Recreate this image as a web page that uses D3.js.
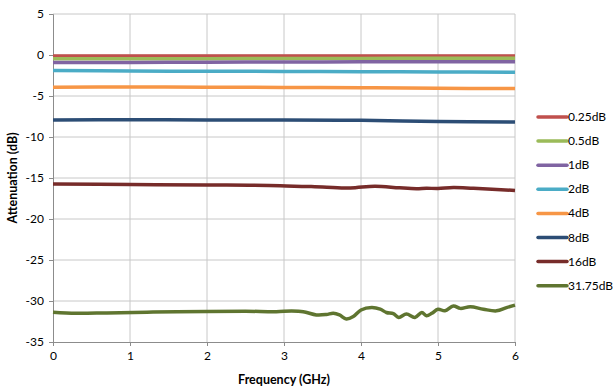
<!DOCTYPE html>
<html>
<head>
  <meta charset="utf-8">
  <title>Attenuation vs Frequency</title>
  <style type="text/css">
    body{
      margin:0;
      background:#fff;
    }
    text{
      font-family: Lato, "Open Sans", sans-serif;
      fill:#000;
    }
  </style>
</head>
<body>
<div id="chartContainer"></div>
<script src="https://d3js.org/d3.v7.min.js"></script>
<script type="text/javascript">
  // tick labels
  var xTicks = [0, 1, 2, 3, 4, 5, 6];
  var yTicks = [5, 0, -5, -10, -15, -20, -25, -30, -35];

  // series names + colours (Excel 2007 palette)
  var names = ["0.25dB", "0.5dB", "1dB", "2dB", "4dB", "8dB", "16dB", "31.75dB"];
  var colors = ["#C0504D", "#9BBB59", "#8064A2", "#4BACC6", "#F79646", "#2C4D75", "#772C2A", "#5F7530"];

  // flat states, sampled every GHz
  var freqCoarse = [0, 1, 2, 3, 4, 5, 6];
  var att025 = [-0.12, -0.12, -0.12, -0.12, -0.12, -0.12, -0.12];
  var att05 = [-0.45, -0.45, -0.45, -0.42, -0.42, -0.4, -0.4];
  var att1 = [-0.92, -0.9, -0.88, -0.85, -0.83, -0.82, -0.82];
  var att2 = [-1.9, -1.95, -1.98, -2.0, -2.03, -2.07, -2.1];
  var att4 = [-3.92, -3.9, -3.92, -3.95, -3.98, -4.05, -4.1];
  var att8 = [-7.92, -7.9, -7.92, -7.93, -7.97, -8.1, -8.17];

  // 16dB
  var freq16 = [0, 1, 2, 2.95, 3.5, 3.86, 4.18, 4.5, 4.72, 4.85, 5.0, 5.2, 5.46, 6];
  var att16 = [-15.73, -15.8, -15.85, -15.93, -16.1, -16.22, -16.0, -16.2, -16.3, -16.25, -16.28, -16.16, -16.26, -16.52];

  // 31.75dB
  var freq3175 = [0, 0.3, 0.7, 1.3, 2.0, 2.5, 2.9, 3.1, 3.25, 3.42, 3.55, 3.64, 3.72, 3.81, 3.9, 4.0,
                  4.14, 4.25, 4.33, 4.42, 4.49, 4.59, 4.7, 4.79, 4.85, 4.92, 5.0, 5.09, 5.2, 5.29,
                  5.42, 5.59, 5.76, 5.89, 6.0];
  var att3175 = [-31.37, -31.5, -31.45, -31.35, -31.28, -31.25, -31.3, -31.22, -31.3, -31.7, -31.65, -31.5, -31.7, -32.2, -31.9, -31.1,
                 -30.8, -31.0, -31.4, -31.55, -32.0, -31.6, -32.0, -31.4, -31.8, -31.5, -31.0, -31.2, -30.6, -30.9,
                 -30.7, -31.0, -31.2, -30.8, -30.5];

  var series = [
    [freqCoarse, att025], [freqCoarse, att05], [freqCoarse, att1], [freqCoarse, att2],
    [freqCoarse, att4], [freqCoarse, att8], [freq16, att16], [freq3175, att3175]
  ].map(function (s, i) {
    return {name: names[i], color: colors[i],
            pts: s[0].map(function (f, j) { return [f, s[1][j]]; })};
  });

  var W = 613, H = 391;
  var svg = d3.select("#chartContainer").append("svg")
      .attr("width", W).attr("height", H);

  var x = d3.scaleLinear().domain([0, 6]).range([53, 515]);
  var y = d3.scaleLinear().domain([-35, 5]).range([342, 14]);

  // gridlines
  svg.append("g").selectAll("line").data(xTicks.slice(1)).enter().append("line")
      .attr("x1", function (d) { return x(d); }).attr("x2", function (d) { return x(d); })
      .attr("y1", y(5)).attr("y2", y(-35))
      .attr("stroke", "#c8c8c8").attr("stroke-width", 1);
  svg.append("g").selectAll("line").data(yTicks.slice(0, -1)).enter().append("line")
      .attr("x1", x(0)).attr("x2", x(6))
      .attr("y1", function (d) { return y(d); }).attr("y2", function (d) { return y(d); })
      .attr("stroke", "#c8c8c8").attr("stroke-width", 1);

  // axes
  var xAxis = svg.append("g").attr("transform", "translate(0," + y(-35) + ")")
      .call(d3.axisBottom(x).tickValues(xTicks).tickSize(4).tickPadding(5).tickFormat(d3.format("d")));
  var yAxis = svg.append("g").attr("transform", "translate(" + x(0) + ",0)")
      .call(d3.axisLeft(y).tickValues(yTicks).tickSize(4).tickPadding(5).tickFormat(function (d) { return d < 0 ? "-" + (-d) : d; }));
  [xAxis, yAxis].forEach(function (a) {
    a.select(".domain").attr("stroke", "#8c8c8c");
    a.selectAll(".tick line").attr("stroke", "#8c8c8c");
    a.selectAll(".tick text").style("font-family", "Lato, sans-serif").style("font-size", "12px").attr("fill", "#000");
  });

  // lines
  var line = d3.line()
      .x(function (d) { return x(d[0]); })
      .y(function (d) { return y(d[1]); })
      .curve(d3.curveCatmullRom.alpha(0.5));

  svg.append("g").selectAll("path").data(series).enter().append("path")
      .attr("d", function (d) { return line(d.pts); })
      .attr("fill", "none")
      .attr("stroke", function (d) { return d.color; })
      .attr("stroke-width", 3.5)
      .attr("stroke-linejoin", "round");

  // axis titles
  svg.append("text")
      .attr("x", 284).attr("y", 384)
      .style("text-anchor", "middle")
      .style("font-weight", "bold")
      .style("font-size", "12.5px")
      .text("Frequency (GHz)");
  svg.append("text")
      .attr("transform", "translate(17," + 178 + ") rotate(-90)")
      .style("text-anchor", "middle")
      .style("font-weight", "bold")
      .style("font-size", "12.5px")
      .text("Attenuation (dB)");

  // legend
  var leg = svg.append("g").selectAll("g").data(series).enter().append("g")
      .attr("transform", function (d, i) { return "translate(0," + (117 + i * 24.1) + ")"; });
  leg.append("line")
      .attr("x1", 538).attr("x2", 567)
      .attr("stroke", function (d) { return d.color; })
      .attr("stroke-width", 3.5)
      .attr("stroke-linecap", "round");
  leg.append("text")
      .attr("x", 568).attr("y", 4)
      .style("font-size", "12px")
      .text(function (d) { return d.name; });
</script>
</body>
</html>
